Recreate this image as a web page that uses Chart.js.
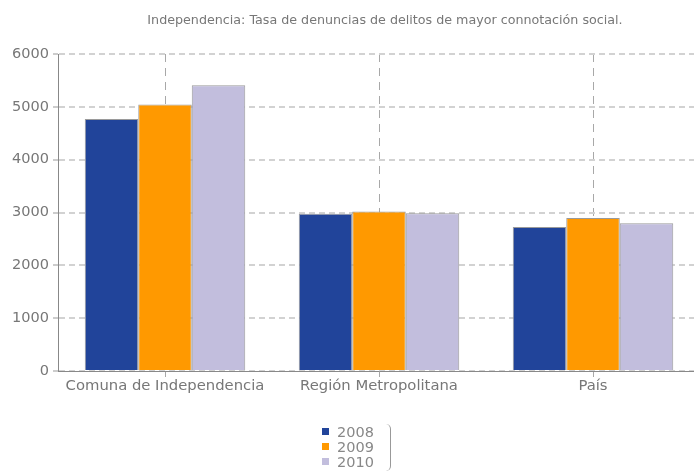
<!DOCTYPE html>
<html>
<head>
<meta charset="utf-8">
<script src="https://cdn.jsdelivr.net/npm/chart.js@4.4.0/dist/chart.umd.min.js"></script>
<style>
  body { margin: 0; width: 694px; height: 472px; overflow: hidden; background: #fff; font-family: "DejaVu Sans", Verdana, sans-serif; }
  #title { position: absolute; left: 0; width: 770px; top: 12px; text-align: center; font-size: 12.7px; color: #777; }
  #wrap { position: absolute; left: 0; top: 0; width: 700px; height: 472px; }
  #legend { position: absolute; left: 316px; top: 424px; padding: 1px 16px 1px 6px; border-right: 1px solid #999; border-radius: 5px; }
  #legend div { font-size: 14.5px; color: #888; line-height: 15px; }
  #legend span { display: inline-block; width: 7px; height: 7px; margin-right: 8px; vertical-align: 2px; }
</style>
</head>
<body>
<div id="wrap"><canvas id="chart"></canvas></div>
<div id="title">Independencia: Tasa de denuncias de delitos de mayor connotación social.</div>
<div id="legend"></div>
<script>
// data
const categories = ['Comuna de Independencia', 'Región Metropolitana', 'País'];
const years = ['2008', '2009', '2010'];
const values_2008 = [4770, 2975, 2725];
const values_2009 = [5045, 3020, 2895];
const values_2010 = [5410, 2985, 2795];
const y_ticks = [0, 1000, 2000, 3000, 4000, 5000, 6000];

const colors = ['#21449a', '#ff9900', '#c2bedd'];
const series = [values_2008, values_2009, values_2010];

const datasets = years.map((y, i) => ({
    label: y,
    data: series[i],
    backgroundColor: colors[i],
    borderColor: '#9a9a9a',
    borderWidth: 1,
    categoryPercentage: 0.75,
    barPercentage: 1.0
}));

new Chart(document.getElementById('chart').getContext('2d'), {
    type: 'bar',
    data: { labels: categories, datasets: datasets },
    options: {
        responsive: true,
        maintainAspectRatio: false,
        animation: false,
        layout: { padding: { top: 54, right: 0, bottom: 71, left: 0 } },
        plugins: {
            legend: { display: false },
            title: { display: false },
            tooltip: { enabled: false }
        },
        scales: {
            x: {
                grid: {
                    offset: false,
                    color: '#a8a8a8',
                    tickLength: 6,
                    drawTicks: true
                },
                border: { color: '#888', dash: [8, 6] },
                ticks: { color: '#777', font: { family: 'DejaVu Sans', size: 14.8 }, padding: 0 },
                afterFit: (scale) => { scale.height = 30; }
            },
            y: {
                min: 0,
                max: 6000,
                afterBuildTicks: (scale) => { scale.ticks = y_ticks.map(v => ({ value: v })); },
                grid: {
                    color: '#d2d2d2',
                    lineWidth: 2,
                    tickLength: 5,
                    tickColor: '#999',
                    tickWidth: 1
                },
                border: { color: '#888', dash: [6, 4] },
                ticks: {
                    color: '#777',
                    font: { family: 'DejaVu Sans', size: 14.5 },
                    padding: 4,
                    callback: (v) => String(v)
                },
                afterFit: (scale) => { scale.width = 58; }
            }
        }
    }
});

const legendBox = document.getElementById('legend');
years.forEach((y, i) => {
    legendBox.innerHTML += '<div><span style="background:' + colors[i] + '"></span>' + y + '</div>';
});
</script>
</body>
</html>
